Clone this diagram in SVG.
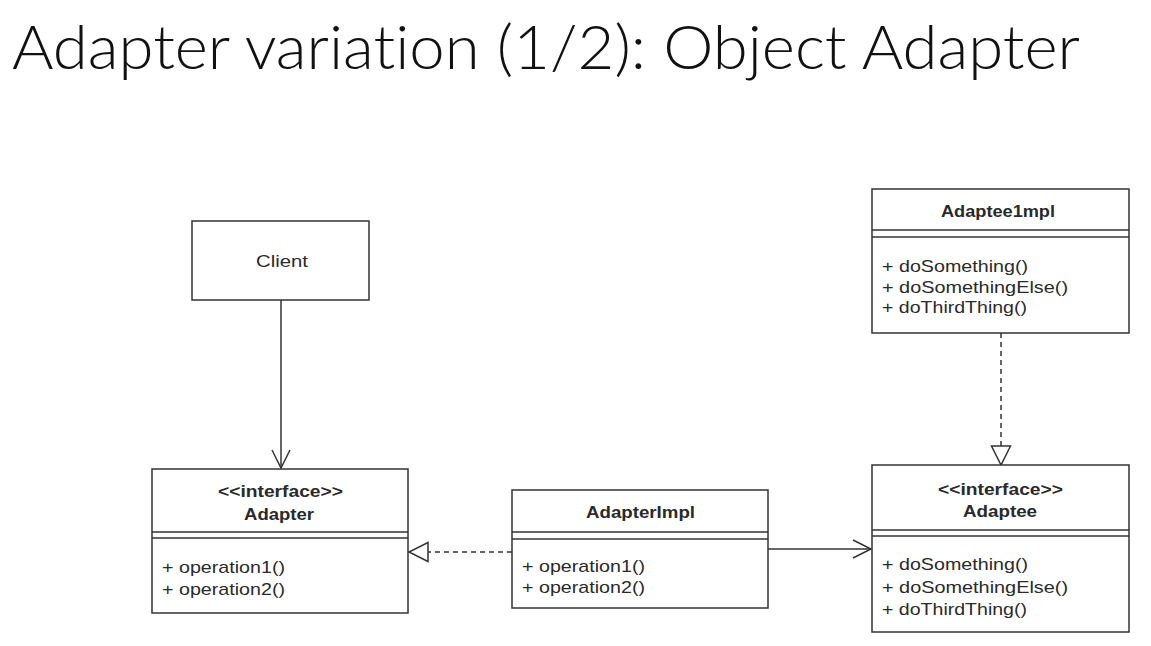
<svg xmlns="http://www.w3.org/2000/svg" width="1151" height="646" viewBox="0 0 1151 646">
<style>
.box{fill:#fff;stroke:#333;stroke-width:1.5}
.sep{stroke:#333;stroke-width:1.3;fill:none}
.t{font-family:"Liberation Sans",Arial,sans-serif;font-size:17px;fill:#2a2a2a}
.b{font-weight:bold;text-anchor:middle}
.ln{stroke:#333;stroke-width:1.5;fill:none}
.dash{stroke-dasharray:5 4}
.title{font-family:Lato,"Open Sans",sans-serif;font-weight:300;font-size:62px;fill:#111;font-variant-ligatures:none;font-feature-settings:"liga" 0,"dlig" 0}
</style>
<defs>
<marker id="open" markerWidth="22" markerHeight="22" refX="19" refY="10" orient="auto" markerUnits="userSpaceOnUse">
<path d="M1,1 L19,10 L1,19" fill="none" stroke="#333" stroke-width="1.5"/>
</marker>
<marker id="tri" markerWidth="24" markerHeight="24" refX="20" refY="11" orient="auto" markerUnits="userSpaceOnUse">
<path d="M1,1.5 L20,11 L1,20.5 Z" fill="#fff" stroke="#333" stroke-width="1.5"/>
</marker>
</defs>
<rect width="1151" height="646" fill="#fff"/>
<text class="title" x="12" y="69" textLength="1068" lengthAdjust="spacingAndGlyphs">Adapter variation (1/2): Object Adapter</text>

<g id="connectors">
<line class="ln" x1="281" y1="300" x2="281" y2="468" marker-end="url(#open)"/>
<line class="ln dash" x1="512" y1="552" x2="409" y2="552" marker-end="url(#tri)"/>
<line class="ln" x1="768" y1="549" x2="871" y2="549" marker-end="url(#open)"/>
<line class="ln dash" x1="1001" y1="333" x2="1001" y2="465" marker-end="url(#tri)"/>
</g>

<g id="client">
<rect class="box" x="192" y="221" width="177" height="79"/>
<text class="t" x="256" y="267" textLength="52" lengthAdjust="spacingAndGlyphs">Client</text>
</g>

<g id="adapter">
<rect class="box" x="152" y="469" width="256" height="144"/>
<line class="sep" x1="152" y1="532" x2="408" y2="532"/>
<line class="sep" x1="152" y1="538" x2="408" y2="538"/>
<text class="t b" x="280.5" y="497" textLength="125" lengthAdjust="spacingAndGlyphs">&lt;&lt;interface&gt;&gt;</text>
<text class="t b" x="279" y="520" textLength="70" lengthAdjust="spacingAndGlyphs">Adapter</text>
<text class="t" x="162" y="573" textLength="123" lengthAdjust="spacingAndGlyphs">+ operation1()</text>
<text class="t" x="162" y="595" textLength="123" lengthAdjust="spacingAndGlyphs">+ operation2()</text>
</g>

<g id="adapterimpl">
<rect class="box" x="512" y="490" width="256" height="118"/>
<line class="sep" x1="512" y1="532" x2="768" y2="532"/>
<line class="sep" x1="512" y1="539" x2="768" y2="539"/>
<text class="t b" x="640.5" y="518" textLength="109" lengthAdjust="spacingAndGlyphs">AdapterImpl</text>
<text class="t" x="522" y="572" textLength="123" lengthAdjust="spacingAndGlyphs">+ operation1()</text>
<text class="t" x="522" y="593" textLength="123" lengthAdjust="spacingAndGlyphs">+ operation2()</text>
</g>

<g id="adapteeimpl">
<rect class="box" x="872" y="189" width="257" height="144"/>
<line class="sep" x1="872" y1="230" x2="1129" y2="230"/>
<line class="sep" x1="872" y1="237" x2="1129" y2="237"/>
<text class="t b" x="998" y="217" textLength="114" lengthAdjust="spacingAndGlyphs">Adaptee1mpl</text>
<text class="t" x="882" y="272" textLength="146" lengthAdjust="spacingAndGlyphs">+ doSomething()</text>
<text class="t" x="882" y="293" textLength="186" lengthAdjust="spacingAndGlyphs">+ doSomethingElse()</text>
<text class="t" x="882" y="313" textLength="145" lengthAdjust="spacingAndGlyphs">+ doThirdThing()</text>
</g>

<g id="adaptee">
<rect class="box" x="872" y="465" width="257" height="167"/>
<line class="sep" x1="872" y1="530" x2="1129" y2="530"/>
<line class="sep" x1="872" y1="536" x2="1129" y2="536"/>
<text class="t b" x="1000.5" y="495" textLength="125" lengthAdjust="spacingAndGlyphs">&lt;&lt;interface&gt;&gt;</text>
<text class="t b" x="1000" y="517" textLength="74" lengthAdjust="spacingAndGlyphs">Adaptee</text>
<text class="t" x="882" y="570" textLength="146" lengthAdjust="spacingAndGlyphs">+ doSomething()</text>
<text class="t" x="882" y="593" textLength="186" lengthAdjust="spacingAndGlyphs">+ doSomethingElse()</text>
<text class="t" x="882" y="615" textLength="145" lengthAdjust="spacingAndGlyphs">+ doThirdThing()</text>
</g>
</svg>
